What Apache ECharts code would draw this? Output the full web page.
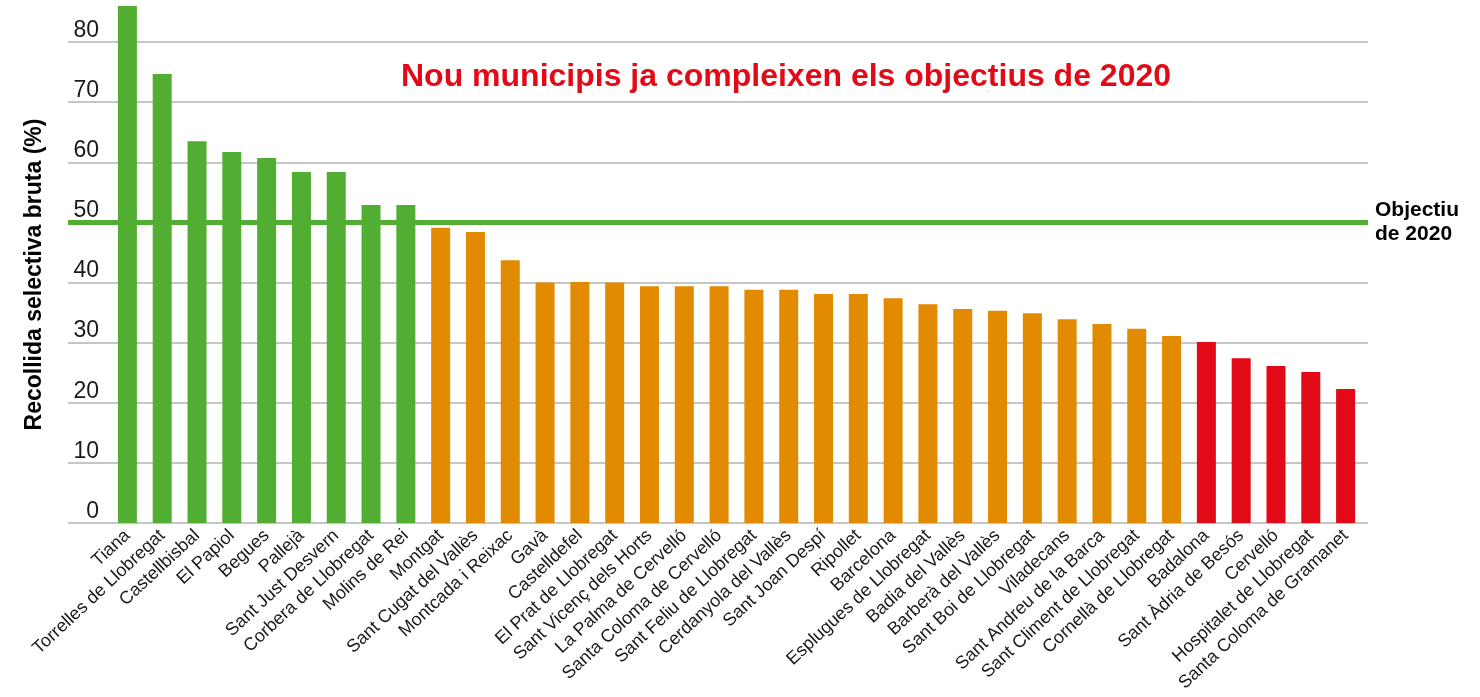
<!DOCTYPE html>
<html>
<head>
<meta charset="utf-8">
<title>Recollida selectiva bruta</title>
<script src="https://cdn.jsdelivr.net/npm/echarts@6/dist/echarts.min.js"></script>
<style>
    html, body { margin: 0; padding: 0; background: #fff; }
    #main { width: 1480px; height: 697px; }
</style>
</head>
<body>
<div id="main"></div>
<script>
// municipis, ordenats de més a menys recollida
var municipis = [
    'Tiana', 'Torrelles de Llobregat', 'Castellbisbal', 'El Papiol', 'Begues',
    'Pallejà', 'Sant Just Desvern', 'Corbera de Llobregat', 'Molins de Rei',
    'Montgat', 'Sant Cugat del Vallès', 'Montcada i Reixac', 'Gavà', 'Castelldefel',
    'El Prat de Llobregat', 'Sant Vicenç dels Horts', 'La Palma de Cervelló',
    'Santa Coloma de Cervelló', 'Sant Feliu de Llobregat', 'Cerdanyola del Vallès',
    'Sant Joan Despí', 'Ripollet', 'Barcelona', 'Esplugues de Llobregat',
    'Badia del Vallès', 'Barberà del Vallès', 'Sant Boi de Llobregat', 'Viladecans',
    'Sant Andreu de la Barca', 'Sant Climent de Llobregat', 'Cornellà de Llobregat',
    'Badalona', 'Sant Àdria de Besós', 'Cervelló', 'Hospitalet de Llobregat',
    'Santa Coloma de Gramanet'
];

// % recollida selectiva bruta (llegit del gràfic)
var recollida = [
    86.0, 74.7, 63.5, 61.7, 60.7, 58.4, 58.4, 52.9, 52.9,
    49.1, 48.4, 43.7, 40.0, 40.1, 40.0, 39.4, 39.4, 39.4, 38.8, 38.8,
    38.1, 38.1, 37.4, 36.4, 35.6, 35.3, 34.9, 33.9, 33.1, 32.3, 31.1,
    30.1, 27.4, 26.1, 25.1, 22.3
];

var objectiu = 50;
var yTicks = [0, 10, 20, 30, 40, 50, 60, 70, 80];

var verd = '#52ae32';
var taronja = '#e38b00';
var vermell = '#e30a17';

function colorPer(v) {
    if (v >= objectiu) return verd;
    if (v >= 30.5) return taronja;
    return vermell;
}

var barres = recollida.map(function(v) {
    return { value: v, itemStyle: { color: colorPer(v) } };
});

var myChart = echarts.init(document.getElementById('main'));

var yMax = 87;

option = {
    animation: false,
    backgroundColor: '#fff',
    textStyle: { fontFamily: '"Liberation Sans", Arial, sans-serif' },
    title: {
        text: 'Nou municipis ja compleixen els objectius de 2020',
        left: 396,
        top: 56,
        textStyle: {
            color: vermell,
            fontSize: 32,
            fontWeight: 'bold',
            fontFamily: '"Liberation Sans", Arial, sans-serif'
        }
    },
    grid: [
        // graella ampla: línies i etiquetes de l'eix Y
        { left: 68, right: 112, top: 0, bottom: 174, outerBoundsMode: 'none' },
        // graella de les barres
        { left: 110, right: 117, top: 0, bottom: 174, outerBoundsMode: 'none' }
    ],
    xAxis: [{
        gridIndex: 0,
        type: 'value',
        min: 0,
        max: 1,
        show: false
    }, {
        gridIndex: 1,
        type: 'category',
        data: municipis,
        axisLine: { show: false },
        axisTick: { show: false },
        axisLabel: {
            interval: 0,
            rotate: 43,
            margin: 10,
            fontSize: 18,
            color: '#1a1a1a'
        }
    }],
    yAxis: [{
        gridIndex: 0,
        type: 'value',
        min: 0,
        max: yMax,
        interval: 10,
        name: 'Recollida selectiva bruta (%)',
        nameLocation: 'middle',
        nameGap: 22,
        nameTextStyle: {
            fontSize: 23,
            fontWeight: 'bold',
            color: '#000',
            padding: [0, 26, 0, 0]
        },
        axisLine: { show: false },
        axisTick: { show: false },
        axisLabel: {
            inside: true,
            margin: 31,
            align: 'right',
            verticalAlign: 'bottom',
            fontSize: 23,
            color: '#1a1a1a',
            showMaxLabel: false,
            formatter: function(v) {
                return yTicks.indexOf(v) >= 0 ? v : '';
            }
        },
        splitLine: {
            showMaxLine: false,
            lineStyle: { color: '#b3b3b3', width: 1.5 }
        }
    }, {
        gridIndex: 1,
        type: 'value',
        min: 0,
        max: yMax,
        interval: 10,
        show: false,
        splitLine: { show: false }
    }],
    series: [{
        name: 'objectiu',
        type: 'line',
        xAxisIndex: 0,
        yAxisIndex: 0,
        data: [],
        silent: true,
        markLine: {
            silent: true,
            symbol: 'none',
            lineStyle: { color: verd, width: 5, type: 'solid' },
            label: {
                show: true,
                position: 'end',
                distance: 7,
                formatter: 'Objectiu\nde 2020',
                align: 'left',
                color: '#000',
                fontSize: 21,
                fontWeight: 'bold',
                lineHeight: 24
            },
            data: [{ yAxis: objectiu }]
        }
    }, {
        name: 'Recollida',
        type: 'bar',
        xAxisIndex: 1,
        yAxisIndex: 1,
        barWidth: 19,
        data: barres
    }]
};

myChart.setOption(option);
</script>
</body>
</html>
